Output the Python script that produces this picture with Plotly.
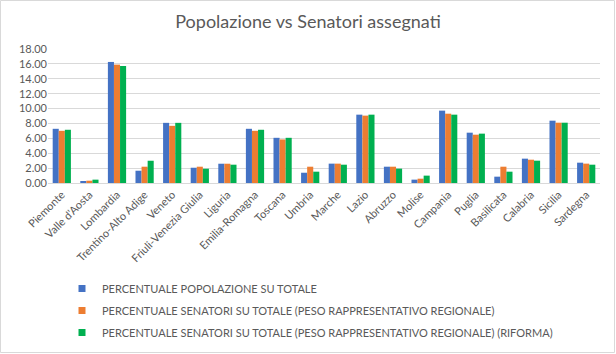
import plotly.graph_objects as go

regioni = ["Piemonte", "Valle d'Aosta", "Lombardia", "Trentino-Alto Adige", "Veneto",
           "Friuli-Venezia Giulia", "Liguria", "Emilia-Romagna", "Toscana", "Umbria",
           "Marche", "Lazio", "Abruzzo", "Molise", "Campania", "Puglia", "Basilicata",
           "Calabria", "Sicilia", "Sardegna"]

popolazione = [7.28, 0.18, 16.26, 1.65, 8.08, 2.05, 2.59, 7.28, 6.07, 1.38,
               2.60, 9.18, 2.19, 0.45, 9.72, 6.76, 0.85, 3.27, 8.37, 2.73]
senatori = [7.01, 0.31, 15.90, 2.19, 7.68, 2.19, 2.59, 7.01, 5.85, 2.19,
            2.60, 9.05, 2.19, 0.58, 9.31, 6.49, 2.19, 3.13, 8.10, 2.60]
senatori_riforma = [7.15, 0.45, 15.72, 2.99, 8.08, 1.92, 2.46, 7.15, 6.07, 1.52,
                    2.46, 9.18, 1.93, 0.99, 9.18, 6.63, 1.52, 3.00, 8.10, 2.46]

serie_nomi = ["PERCENTUALE POPOLAZIONE SU TOTALE",
              "PERCENTUALE SENATORI SU TOTALE (PESO RAPPRESENTATIVO REGIONALE)",
              "PERCENTUALE SENATORI SU TOTALE (PESO RAPPRESENTATIVO REGIONALE) (RIFORMA)"]
colori = ["#4472C4", "#ED7D31", "#00B050"]
y_ticks = [0, 2, 4, 6, 8, 10, 12, 14, 16, 18]

fig = go.Figure()
for i, (nome, vals, col) in enumerate(zip(serie_nomi, [popolazione, senatori, senatori_riforma], colori)):
    fig.add_trace(go.Bar(x=regioni, y=vals, name=nome, marker_color=col,
                         marker_line_width=0, showlegend=False))
# legend entries with small square markers
for i, (nome, col) in enumerate(zip(serie_nomi, colori)):
    fig.add_trace(go.Scatter(x=[None], y=[None], mode="markers", name=nome,
                             marker=dict(symbol="square", size=7, color=col),
                             legendgroup=str(i), showlegend=True))

W, H = 616, 354
ml, mr, mt, mb = 48, 16, 49, 171
pw = W - ml - mr
ph = H - mt - mb

fig.update_layout(
    width=W, height=H,
    margin=dict(l=ml, r=mr, t=mt, b=mb, autoexpand=False),
    paper_bgcolor="white", plot_bgcolor="white",
    font=dict(family="Lato, Open Sans, sans-serif", color="#595959", size=11),
    title=dict(text="Popolazione vs Senatori assegnati", x=0.5, xanchor="center",
               y=1 - 22 / H, yanchor="middle",
               font=dict(size=18, color="#595959", family="Lato, sans-serif")),
    barmode="group", bargap=0.34, bargroupgap=0,
    showlegend=True,
    legend=dict(orientation="v", x=(62 - ml) / pw, xanchor="left",
                y=(mt + ph - 274) / ph, yanchor="top",
                font=dict(size=11, color="#595959"),
                tracegroupgap=3, traceorder="grouped",
                itemsizing="trace", bgcolor="rgba(0,0,0,0)"),
    xaxis=dict(tickangle=-45, showgrid=False, showline=True, linecolor="#D9D9D9",
               ticks="", tickfont=dict(size=11, color="#595959"), automargin=False),
    yaxis=dict(range=[0, 18], tickvals=y_ticks, tickformat=".2f", automargin=False,
               showgrid=True, gridcolor="#D9D9D9", gridwidth=1, zeroline=False,
               showline=False, ticks="", tickfont=dict(size=11, color="#595959")),
    shapes=[dict(type="rect", xref="paper", yref="paper",
                 x0=(0.5 - ml) / pw, x1=(614.5 - ml) / pw,
                 y0=(mt + ph - 352.5) / ph, y1=(mt + ph - 0.5) / ph,
                 line=dict(color="#D9D9D9", width=1), fillcolor="rgba(0,0,0,0)",
                 layer="below")],
)

fig.write_html("out.html")
